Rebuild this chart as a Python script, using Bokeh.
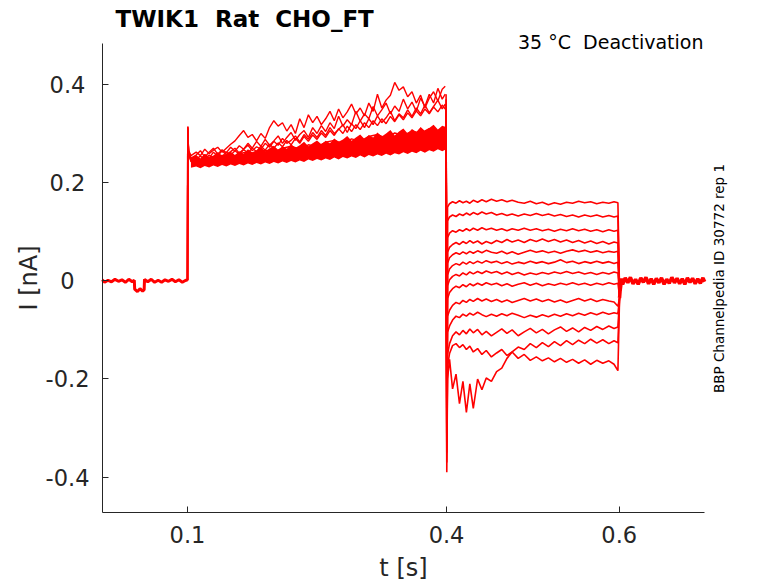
# plot.py
#
# Deactivation protocol, TWIK1 rat, CHO_FT cell line
# Current traces redrawn from a Channelpedia figure

# ========
# SETTINGS
# ========

# Libraries
import numpy as np
from bokeh.plotting import figure
from bokeh.models import Range1d, FixedTicker, Label, CustomJSTickFormatter
from bokeh.embed import file_html
from bokeh.resources import INLINE

# ====
# DATA
# ====

# Holding period before the prepulse (s, nA)
t_hold = [0.0012, 0.004, 0.008, 0.012, 0.016, 0.020, 0.024, 0.028, 0.032, 0.036,
          0.0384, 0.0388, 0.042, 0.045, 0.048, 0.0498, 0.0502, 0.054, 0.058, 0.062,
          0.066, 0.070, 0.074, 0.078, 0.082, 0.086, 0.090, 0.094, 0.098, 0.1000]
i_hold = [0.002, -0.003, 0.001, -0.002, 0.003, -0.001, 0.002, -0.003, 0.003, -0.002,
          0.001, -0.017, -0.022, -0.016, -0.021, -0.018, 0.003, -0.002, 0.003, -0.003,
          0.001, -0.003, 0.002, -0.001, 0.003, -0.002, 0.002, -0.003, 0.001, 0.001]

# Activation prepulse, coarse sampling (s)
t_act = [0.1000, 0.1003, 0.1012, 0.104,
         0.11, 0.12, 0.13, 0.14, 0.15, 0.16, 0.17, 0.18, 0.19, 0.20,
         0.21, 0.22, 0.23, 0.24, 0.25, 0.26, 0.27, 0.28, 0.29, 0.30,
         0.31, 0.32, 0.33, 0.34, 0.35, 0.36, 0.37, 0.38, 0.39, 0.3985]

# Activation prepulse, fine sampling (s)
t_fine = [0.1000, 0.1003, 0.1012,
          0.104, 0.110, 0.115, 0.120, 0.125, 0.130, 0.135, 0.140, 0.145, 0.150,
          0.155, 0.160, 0.165, 0.170, 0.175, 0.180, 0.185, 0.190, 0.195, 0.200,
          0.205, 0.210, 0.215, 0.220, 0.225, 0.230, 0.235, 0.240, 0.245, 0.250,
          0.255, 0.260, 0.265, 0.270, 0.275, 0.280, 0.285, 0.290, 0.295, 0.300,
          0.305, 0.310, 0.315, 0.320, 0.325, 0.330, 0.335, 0.340, 0.345, 0.350,
          0.355, 0.360, 0.365, 0.370, 0.375, 0.380, 0.385, 0.390, 0.395, 0.3985]

# Dense core of the overlapping prepulse traces (on t_fine[3:])
core_lo = [0.230, 0.233, 0.229, 0.234, 0.231, 0.235, 0.232, 0.236, 0.233, 0.237,
           0.234, 0.238, 0.235, 0.239, 0.236, 0.240, 0.237, 0.241, 0.238, 0.242,
           0.239, 0.243, 0.240, 0.244, 0.241, 0.245, 0.242, 0.247, 0.244, 0.248,
           0.245, 0.249, 0.246, 0.251, 0.247, 0.252, 0.249, 0.253, 0.250, 0.255,
           0.251, 0.256, 0.253, 0.257, 0.254, 0.259, 0.255, 0.260, 0.257, 0.262,
           0.258, 0.263, 0.260, 0.265, 0.261, 0.266, 0.263, 0.268, 0.264, 0.267]
core_hi = [0.250, 0.256, 0.249, 0.258, 0.252, 0.255, 0.262, 0.254, 0.259, 0.263,
           0.256, 0.264, 0.259, 0.268, 0.262, 0.266, 0.272, 0.264, 0.270, 0.275,
           0.267, 0.274, 0.269, 0.278, 0.271, 0.276, 0.283, 0.274, 0.280, 0.286,
           0.278, 0.285, 0.280, 0.290, 0.283, 0.288, 0.295, 0.285, 0.292, 0.298,
           0.289, 0.297, 0.292, 0.302, 0.294, 0.300, 0.307, 0.296, 0.304, 0.310,
           0.300, 0.309, 0.303, 0.313, 0.305, 0.311, 0.318, 0.308, 0.316, 0.314]

# Prepulse traces inside the core (nA, on t_act)
act_a = [0.001, 0.314, 0.262, 0.243,
         0.241, 0.246, 0.243, 0.248, 0.245, 0.251, 0.253, 0.249, 0.256, 0.253,
         0.259, 0.256, 0.262, 0.259, 0.265, 0.262, 0.268, 0.265, 0.271, 0.268,
         0.275, 0.272, 0.278, 0.275, 0.282, 0.278, 0.285, 0.282, 0.289, 0.284]
act_b = [0.001, 0.310, 0.258, 0.246,
         0.246, 0.242, 0.249, 0.246, 0.251, 0.255, 0.250, 0.257, 0.254, 0.261,
         0.257, 0.264, 0.260, 0.267, 0.264, 0.270, 0.267, 0.274, 0.270, 0.278,
         0.274, 0.282, 0.278, 0.286, 0.282, 0.290, 0.286, 0.294, 0.290, 0.296]
act_c = [0.001, 0.306, 0.260, 0.248,
         0.243, 0.249, 0.246, 0.252, 0.256, 0.250, 0.258, 0.255, 0.262, 0.259,
         0.266, 0.261, 0.270, 0.267, 0.273, 0.270, 0.278, 0.274, 0.283, 0.279,
         0.287, 0.283, 0.292, 0.288, 0.295, 0.291, 0.299, 0.294, 0.303, 0.298]
act_d = [0.001, 0.312, 0.264, 0.250,
         0.249, 0.244, 0.251, 0.255, 0.250, 0.259, 0.263, 0.257, 0.266, 0.262,
         0.270, 0.274, 0.268, 0.277, 0.273, 0.282, 0.286, 0.279, 0.289, 0.284,
         0.294, 0.298, 0.290, 0.301, 0.296, 0.305, 0.300, 0.310, 0.304, 0.309]

# Prepulse traces above the core (nA, on t_fine)
act_u1 = [0.001, 0.312, 0.266,
          0.255, 0.262, 0.255, 0.268, 0.259, 0.266, 0.272, 0.262, 0.270, 0.278,
          0.285, 0.296, 0.306, 0.292, 0.298, 0.285, 0.300, 0.290, 0.312, 0.326,
          0.315, 0.322, 0.305, 0.318, 0.300, 0.330, 0.312, 0.338, 0.322, 0.335,
          0.318, 0.330, 0.345, 0.326, 0.350, 0.332, 0.344, 0.360, 0.340, 0.352,
          0.336, 0.362, 0.345, 0.380, 0.352, 0.368, 0.378, 0.404, 0.388, 0.395,
          0.375, 0.385, 0.362, 0.378, 0.352, 0.372, 0.385, 0.366, 0.390, 0.396]
act_u2 = [0.001, 0.306, 0.262,
          0.250, 0.256, 0.265, 0.252, 0.262, 0.270, 0.258, 0.267, 0.261, 0.272,
          0.264, 0.275, 0.268, 0.280, 0.270, 0.284, 0.274, 0.288, 0.276, 0.285,
          0.295, 0.280, 0.292, 0.302, 0.286, 0.298, 0.306, 0.292, 0.312, 0.300,
          0.316, 0.304, 0.322, 0.310, 0.335, 0.315, 0.328, 0.318, 0.345, 0.325,
          0.340, 0.330, 0.355, 0.336, 0.348, 0.362, 0.340, 0.356, 0.345, 0.370,
          0.350, 0.364, 0.345, 0.372, 0.355, 0.380, 0.362, 0.392, 0.370, 0.380]
act_u3 = [0.001, 0.300, 0.258,
          0.248, 0.252, 0.246, 0.257, 0.250, 0.262, 0.254, 0.265, 0.257, 0.263,
          0.270, 0.260, 0.268, 0.276, 0.265, 0.273, 0.268, 0.280, 0.272, 0.284,
          0.276, 0.290, 0.280, 0.286, 0.295, 0.283, 0.298, 0.288, 0.302, 0.292,
          0.306, 0.296, 0.312, 0.300, 0.308, 0.318, 0.302, 0.320, 0.310, 0.326,
          0.312, 0.330, 0.318, 0.336, 0.322, 0.332, 0.345, 0.326, 0.340, 0.332,
          0.348, 0.335, 0.352, 0.340, 0.358, 0.342, 0.355, 0.368, 0.350, 0.360]
act_u4 = [0.001, 0.314, 0.260,
          0.244, 0.248, 0.254, 0.247, 0.256, 0.251, 0.260, 0.253, 0.262, 0.256,
          0.265, 0.258, 0.267, 0.261, 0.270, 0.263, 0.274, 0.266, 0.278, 0.270,
          0.281, 0.273, 0.286, 0.277, 0.290, 0.280, 0.294, 0.284, 0.297, 0.288,
          0.301, 0.292, 0.306, 0.296, 0.310, 0.300, 0.315, 0.304, 0.318, 0.308,
          0.322, 0.312, 0.326, 0.316, 0.330, 0.320, 0.335, 0.324, 0.338, 0.328,
          0.342, 0.332, 0.346, 0.336, 0.350, 0.340, 0.354, 0.344, 0.358, 0.350]

# Deactivation steps (s)
t_deact = [0.3995, 0.4003, 0.4012, 0.4035, 0.407, 0.411, 0.415, 0.419, 0.423, 0.427,
           0.431, 0.436, 0.441, 0.446, 0.452, 0.458, 0.464, 0.470, 0.476, 0.483,
           0.490, 0.497, 0.504, 0.511, 0.518, 0.525, 0.532, 0.539, 0.546, 0.553,
           0.560, 0.567, 0.574, 0.581, 0.588, 0.594, 0.5985, 0.6004]

# Deactivation traces, one per voltage step (nA)
deact_01 = [0.275, -0.10, 0.150, 0.157, 0.161, 0.158, 0.163, 0.159, 0.162, 0.158,
            0.164, 0.160, 0.165, 0.161, 0.166, 0.162, 0.165, 0.161, 0.164, 0.160,
            0.158, 0.162, 0.157, 0.160, 0.155, 0.159, 0.156, 0.160, 0.158, 0.162,
            0.159, 0.161, 0.157, 0.160, 0.158, 0.161, 0.159, -0.020]
deact_02 = [0.290, -0.13, 0.122, 0.130, 0.134, 0.131, 0.136, 0.133, 0.138, 0.134,
            0.139, 0.135, 0.140, 0.136, 0.139, 0.134, 0.137, 0.133, 0.136, 0.132,
            0.136, 0.133, 0.137, 0.133, 0.136, 0.132, 0.135, 0.131, 0.134, 0.130,
            0.134, 0.131, 0.134, 0.130, 0.133, 0.130, 0.132, -0.022]
deact_03 = [0.310, -0.16, 0.088, 0.097, 0.102, 0.099, 0.104, 0.101, 0.106, 0.102,
            0.107, 0.103, 0.108, 0.104, 0.107, 0.103, 0.106, 0.102, 0.106, 0.103,
            0.107, 0.103, 0.106, 0.102, 0.105, 0.101, 0.105, 0.102, 0.106, 0.102,
            0.105, 0.101, 0.104, 0.100, 0.104, 0.101, 0.103, -0.024]
deact_04 = [0.330, -0.19, 0.058, 0.068, 0.074, 0.078, 0.074, 0.080, 0.076, 0.082,
            0.077, 0.081, 0.075, 0.080, 0.076, 0.082, 0.078, 0.084, 0.079, 0.083,
            0.078, 0.084, 0.080, 0.085, 0.080, 0.084, 0.079, 0.083, 0.078, 0.082,
            0.077, 0.081, 0.076, 0.080, 0.075, 0.079, 0.077, -0.025]
deact_05 = [0.350, -0.21, 0.036, 0.047, 0.053, 0.057, 0.054, 0.059, 0.055, 0.060,
            0.056, 0.061, 0.057, 0.062, 0.058, 0.056, 0.060, 0.055, 0.059, 0.054,
            0.058, 0.062, 0.058, 0.061, 0.057, 0.060, 0.056, 0.060, 0.063, 0.059,
            0.062, 0.058, 0.061, 0.057, 0.060, 0.058, 0.060, -0.027]
deact_06 = [0.370, -0.24, 0.012, 0.024, 0.031, 0.035, 0.032, 0.038, 0.034, 0.039,
            0.035, 0.040, 0.036, 0.041, 0.037, 0.040, 0.035, 0.039, 0.034, 0.038,
            0.035, 0.040, 0.036, 0.039, 0.035, 0.038, 0.043, 0.037, 0.040, 0.035,
            0.039, 0.036, 0.040, 0.036, 0.039, 0.035, 0.038, -0.028]
deact_07 = [0.380, -0.26, -0.010, 0.002, 0.009, 0.013, 0.010, 0.016, 0.012, 0.018,
            0.014, 0.019, 0.015, 0.020, 0.016, 0.019, 0.014, 0.018, 0.013, 0.017,
            0.012, 0.016, 0.013, 0.017, 0.014, 0.018, 0.015, 0.019, 0.015, 0.018,
            0.014, 0.017, 0.013, 0.017, 0.014, 0.018, 0.016, -0.030]
deact_08 = [0.360, -0.29, -0.036, -0.024, -0.016, -0.011, -0.014, -0.008, -0.012, -0.006,
            -0.010, -0.005, -0.009, -0.004, -0.008, -0.005, -0.010, -0.006, -0.011, -0.007,
            -0.004, -0.009, -0.005, -0.010, -0.006, -0.009, -0.005, -0.008, -0.004, -0.008,
            -0.005, -0.009, -0.005, -0.008, -0.004, -0.007, -0.005, -0.032]
deact_09 = [0.340, -0.31, -0.072, -0.060, -0.050, -0.044, -0.047, -0.040, -0.044, -0.038,
            -0.042, -0.036, -0.041, -0.037, -0.042, -0.038, -0.043, -0.039, -0.044, -0.040,
            -0.036, -0.041, -0.037, -0.042, -0.038, -0.043, -0.039, -0.044, -0.040, -0.036,
            -0.041, -0.037, -0.042, -0.038, -0.041, -0.043, -0.052, -0.035]
deact_10 = [0.320, -0.33, -0.105, -0.092, -0.080, -0.072, -0.075, -0.068, -0.072, -0.066,
            -0.070, -0.064, -0.069, -0.073, -0.068, -0.072, -0.067, -0.071, -0.066, -0.070,
            -0.075, -0.070, -0.074, -0.069, -0.073, -0.068, -0.072, -0.067, -0.071, -0.066,
            -0.070, -0.065, -0.069, -0.064, -0.068, -0.065, -0.067, -0.035]
deact_11 = [0.300, -0.35, -0.150, -0.128, -0.112, -0.104, -0.110, -0.101, -0.108, -0.098,
            -0.106, -0.099, -0.110, -0.103, -0.112, -0.105, -0.098, -0.107, -0.100, -0.112,
            -0.104, -0.097, -0.106, -0.099, -0.108, -0.100, -0.094, -0.103, -0.096, -0.104,
            -0.095, -0.101, -0.093, -0.099, -0.092, -0.097, -0.094, -0.035]
deact_12 = [0.290, -0.37, -0.175, -0.148, -0.132, -0.128, -0.136, -0.130, -0.140, -0.133,
            -0.145, -0.138, -0.150, -0.142, -0.155, -0.147, -0.140, -0.152, -0.145, -0.158,
            -0.150, -0.162, -0.155, -0.163, -0.157, -0.165, -0.158, -0.166, -0.160, -0.168,
            -0.161, -0.170, -0.162, -0.168, -0.163, -0.170, -0.183, -0.035]
deact_13 = [0.280, -0.39, -0.200, -0.160, -0.220, -0.190, -0.250, -0.205, -0.268, -0.210,
            -0.260, -0.200, -0.222, -0.198, -0.205, -0.185, -0.178, -0.158, -0.145, -0.135,
            -0.140, -0.128, -0.136, -0.126, -0.134, -0.124, -0.132, -0.122, -0.130, -0.121,
            -0.128, -0.119, -0.127, -0.120, -0.128, -0.122, -0.126, -0.035]

# Return to holding after the steps (s, nA)
t_tail = [0.6004, 0.6010, 0.6018, 0.6028, 0.604, 0.607, 0.610, 0.613, 0.616, 0.619,
          0.622, 0.625, 0.628, 0.631, 0.634, 0.637, 0.640, 0.643, 0.646, 0.649,
          0.652, 0.655, 0.658, 0.661, 0.664, 0.667, 0.670, 0.673, 0.676, 0.679,
          0.682, 0.685, 0.688, 0.691, 0.694, 0.697, 0.699]
i_tail = [-0.035, -0.022, -0.010, 0.005, -0.007, 0.006, -0.004, 0.007, -0.006, 0.003,
          -0.007, 0.006, -0.003, 0.007, -0.006, 0.004, -0.007, 0.005, -0.004, 0.006,
          -0.007, 0.003, -0.005, 0.007, -0.004, 0.005, -0.006, 0.004, -0.007, 0.006,
          -0.003, 0.005, -0.006, 0.004, -0.005, 0.006, -0.002]

# Axis ticks and labels
x_ticks = [0.1, 0.4, 0.6]
x_tick_labels = ['0.1', '0.4', '0.6']
y_ticks = [-0.4, -0.2, 0, 0.2, 0.4]
y_tick_labels = ['-0.4', '-0.2', '0', '0.2', '0.4']

# Extent of the axes (s, nA)
t_lim = (0.0012, 0.6991)
i_lim = (-0.4725, 0.4833)

# ====
# PLOT
# ====

red = '#ff0000'
ink = '#262626'
font = 'DejaVu Sans'
nbsp = '\u00a0'

# Create figure (frame fills the canvas, axes sit at fixed locations)
p = figure(
	width=778, height=583,
	title=None,
	x_range=Range1d(-0.11659, 0.78450),
	y_range=Range1d(-0.61650, 0.57088),
	min_border=0,
	output_backend='svg',
	toolbar_location=None
	)

# Holding current
p.line(t_hold, i_hold, line_color=red, line_width=3)

# Prepulse: dense core and individual traces
p.varea(x=t_fine[3:], y1=core_lo, y2=core_hi, fill_color=red)
for trace in [act_a, act_b, act_c, act_d]:
	p.line(t_act, trace, line_color=red, line_width=1.5)
for trace in [act_u4, act_u3, act_u2, act_u1]:
	p.line(t_fine, trace, line_color=red, line_width=1.4)

# Deactivation steps
deact = [deact_01, deact_02, deact_03, deact_04, deact_05, deact_06, deact_07,
         deact_08, deact_09, deact_10, deact_11, deact_12, deact_13]
for trace in deact:
	p.line(t_deact, trace, line_color=red, line_width=1.6)

# Back to holding
p.line(t_tail, i_tail, line_color=red, line_width=3.5)

# Axes
p.xaxis.ticker = FixedTicker(ticks=x_ticks)
p.yaxis.ticker = FixedTicker(ticks=y_ticks)
p.xaxis.fixed_location = i_lim[0]
p.yaxis.fixed_location = t_lim[0]
p.xaxis.bounds = t_lim
p.yaxis.bounds = i_lim
p.axis.formatter = CustomJSTickFormatter(code="return ''")

# Tidy
p.grid.visible = False
p.outline_line_color = None
p.axis.minor_tick_line_color = None
p.axis.major_tick_in = 6
p.axis.major_tick_out = 0
p.axis.axis_line_color = ink
p.axis.major_tick_line_color = ink

# Tick labels
for tick, text in zip(x_ticks, x_tick_labels):
	p.add_layout(Label(x=tick, y=49.5, y_units='screen', text=text,
		text_font=font, text_font_size='22.5px', text_color=ink,
		text_align='center', text_baseline='middle'))
for tick, text in zip(y_ticks, y_tick_labels):
	p.add_layout(Label(x=67, x_units='screen', y=tick, text=text,
		text_font=font, text_font_size='22.5px', text_color=ink,
		text_align='center', text_baseline='middle'))

# Axis labels
p.add_layout(Label(x=403, y=16, x_units='screen', y_units='screen', text='t [s]',
	text_font=font, text_font_size='24px', text_color=ink,
	text_align='center', text_baseline='middle'))
p.add_layout(Label(x=28, y=305.5, x_units='screen', y_units='screen', angle=np.pi / 2,
	text='I [nA]', text_font=font, text_font_size='24px', text_color=ink,
	text_align='center', text_baseline='middle'))

# Titles
p.add_layout(Label(x=115, y=565, x_units='screen', y_units='screen',
	text='TWIK1 ' + nbsp + 'Rat ' + nbsp + 'CHO_FT', text_font=font, text_font_style='bold',
	text_font_size='23px', text_align='left', text_baseline='middle', text_color='black'))
p.add_layout(Label(x=703, y=542, x_units='screen', y_units='screen',
	text='35 °C ' + nbsp + 'Deactivation', text_font=font, text_font_size='19px',
	text_align='right', text_baseline='middle', text_color='black'))
p.add_layout(Label(x=718, y=305, x_units='screen', y_units='screen', angle=np.pi / 2,
	text='BBP Channelpedia ID 30772 rep 1', text_font=font, text_font_size='13.5px',
	text_align='center', text_baseline='middle', text_color='black'))

# Save
open('out.html', 'w').write(file_html(p, INLINE))
